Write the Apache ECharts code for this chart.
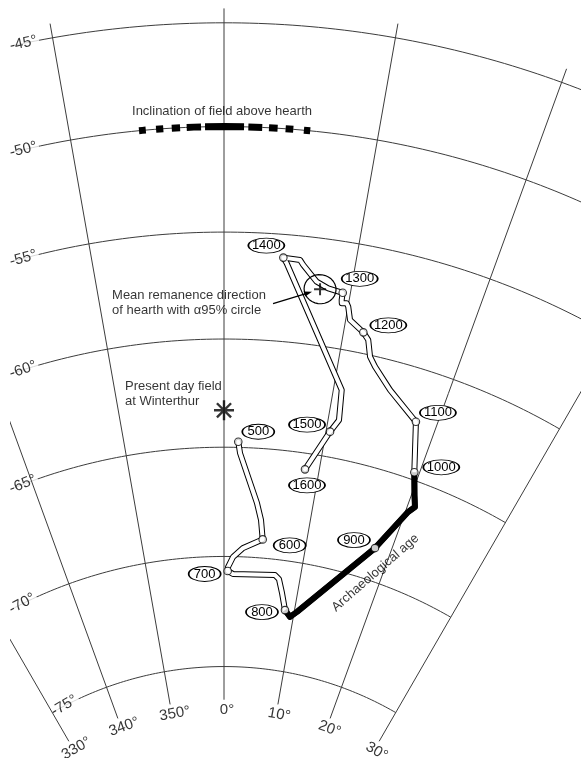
<!DOCTYPE html>
<html>
<head>
<meta charset="utf-8">
<script src="https://cdn.jsdelivr.net/npm/echarts@6/dist/echarts.min.js"></script>
<style>
  html, body { margin: 0; padding: 0; background: #ffffff; }
  #chart { width: 581px; height: 758px; }
</style>
</head>
<body>
<div id="chart"></div>
<script>
// ---- Net graticule (Lambert equal-area, lower hemisphere) ----
const inclinationTicks = [-45, -50, -55, -60, -65, -70, -75];
const declinationTicks = [330, 340, 350, 0, 10, 20, 30];

// ---- Secular variation curve: traced vertices (declination °, inclination °) ----
const curveDec = [1.44, 1.65, 3.72, 4.32, 4.70, 2.36, 1.14, 0.52, 0.48, 1.18, 6.69, 7.27, 7.92, 8.67,
                  9.53, 10.39, 18.10, 20.28, 20.79, 20.30, 19.49,
                  18.07, 17.59, 14.99, 13.21, 12.60, 12.15, 11.62, 10.35, 10.02, 9.85, 9.46, 9.41, 9.40,
                  8.22, 7.25, 6.08, 5.79, 4.51, 4.80, 10.75, 11.03, 10.39, 8.52];
const curveInc = [-64.74, -65.26, -67.51, -68.27, -69.15, -69.60, -70.02, -70.48, -70.66, -70.79, -70.71, -70.87, -71.48, -72.23,
                  -72.50, -72.22, -68.52, -66.46, -66.14, -65.63, -64.65,
                  -62.42, -62.27, -61.35, -60.47, -60.07, -59.33, -59.03, -58.58, -57.99, -57.84, -57.88, -57.73, -57.39,
                  -57.29, -57.05, -56.35, -56.13, -56.09, -56.34, -61.85, -63.24, -63.84, -65.74];
// age (AD) at the century vertices of the curve, null elsewhere
const curveAge = [500, null, null, null, 600, null, null, null, 700, null, null, null, null, 800,
                  null, null, 900, null, null, null, 1000,
                  1100, null, null, null, null, null, 1200, null, null, null, null, null, 1300,
                  null, null, null, null, 1400, null, null, null, 1500, 1600];
// section dated by archaeology
const archaeologicalFrom = 800, archaeologicalTo = 1000;

// ---- Hearth and reference directions ----
const hearthMeanDec = 7.59, hearthMeanInc = -57.38, hearthA95 = 0.68;
const presentDec = 0, presentInc = -63.3;
const hearthFieldInc = -50;
const hearthFieldDecRanges = [[-5.52, -5.08], [-4.41, -3.94], [-3.39, -2.85], [-2.42, -1.49], [-1.23, 1.30],
                              [1.58, 2.48], [2.92, 3.48], [4.00, 4.50], [5.19, 5.60]];

// ---- Layout ----
const NET_CX = 224, NET_CY = 1010, NET_R = 2553, NET_R0 = -0.004;
const CLIP_X = 10;
const DEC_LINE_TOP = -44.3, DEC_LINE_BOTTOM = -76.5, DEC_LABEL_INC = -76.95;
const FONT = '"Liberation Sans", Arial, Helvetica, sans-serif';
const TICK_FONT_SIZE = 15;
const ageTagOffsets = {500: [20, -10], 600: [27, 6], 700: [-23, 3], 800: [-23, 2], 900: [-21, -8], 1000: [27, -5],
                       1100: [22, -9], 1200: [25, -7], 1300: [17, -14], 1400: [-17, -12], 1500: [-23, -7], 1600: [2, 16]};

const rad = Math.PI / 180;
const eqArea = inc => Math.sin((90 + inc) / 2 * rad);
const wrap = dec => ((dec % 360) + 360) % 360;
const signedDec = dec => (dec > 180 ? dec - 360 : dec);
const P = (dec, inc) => [eqArea(inc), wrap(dec)];
const netRadius = inc => NET_R * (eqArea(inc) - NET_R0);

const series = [];

// inclination circles
inclinationTicks.forEach(inc => {
  const pts = [];
  for (let d = -30; d <= 30.0001; d += 0.5) pts.push(P(d, inc));
  series.push({
    type: 'line', coordinateSystem: 'polar', data: pts, symbol: 'none', silent: true, z: 1,
    lineStyle: { color: '#3c3c3c', width: 1 }
  });
});

// declination lines
declinationTicks.forEach(dec => {
  series.push({
    type: 'line', coordinateSystem: 'polar', data: [P(dec, DEC_LINE_TOP), P(dec, DEC_LINE_BOTTOM)],
    symbol: 'none', silent: true, z: 3, lineStyle: { color: '#3c3c3c', width: 1 }
  });
});

// inclination labels at the left end of each circle
const leftAnchor = inc => {
  const a = Math.asin(Math.min(1, (NET_CX - CLIP_X) / netRadius(inc))) / rad;
  return -Math.min(30, a);
};
series.push({
  type: 'scatter', coordinateSystem: 'polar', symbolSize: 0, silent: true, z: 2,
  data: inclinationTicks.map(inc => {
    const d = leftAnchor(inc);
    return {
      value: P(d, inc),
      label: { show: true, formatter: inc + '°', position: 'right', distance: 0, rotate: -d,
               align: 'left', verticalAlign: 'middle', fontSize: TICK_FONT_SIZE, fontFamily: FONT, color: '#000',
               backgroundColor: '#fff', padding: [1, 2, 1, 0] }
    };
  })
});

// declination labels at the bottom of each line
series.push({
  type: 'scatter', coordinateSystem: 'polar', symbolSize: 0, silent: true, z: 2,
  data: declinationTicks.map(dec => ({
    value: P(dec, DEC_LABEL_INC),
    label: { show: true, formatter: dec + '°', position: 'inside', rotate: -signedDec(dec),
             align: 'center', verticalAlign: 'middle', fontSize: TICK_FONT_SIZE, fontFamily: FONT, color: '#000',
             padding: [0, 0, 0, 6] }
  }))
});

// inclination of the field above the hearth
hearthFieldDecRanges.forEach(([d1, d2]) => {
  series.push({
    type: 'line', coordinateSystem: 'polar', data: [P(d1, hearthFieldInc), P((d1 + d2) / 2, hearthFieldInc), P(d2, hearthFieldInc)],
    symbol: 'none', silent: true, z: 4, lineStyle: { color: '#000', width: 7, cap: 'butt' }
  });
});
series.push({
  type: 'scatter', coordinateSystem: 'polar', symbolSize: 0, silent: true, z: 4,
  data: [{ value: P(0, hearthFieldInc),
           label: { show: true, formatter: 'Inclination of field above hearth', position: 'top', distance: 9,
                    offset: [-2, 0], fontSize: 13, fontFamily: FONT, color: '#000' } }]
});

// secular variation curve (double line)
const curvePts = curveDec.map((d, i) => P(d, curveInc[i]));
series.push({
  type: 'line', coordinateSystem: 'polar', data: curvePts, symbol: 'none', silent: true, z: 5,
  lineStyle: { color: '#000', width: 6, join: 'round', cap: 'round' }
});
series.push({
  type: 'line', coordinateSystem: 'polar', data: curvePts, symbol: 'none', silent: true, z: 6,
  lineStyle: { color: '#fff', width: 4, join: 'round', cap: 'round' }
});
// archaeologically dated section
const iFrom = curveAge.indexOf(archaeologicalFrom), iTo = curveAge.indexOf(archaeologicalTo);
series.push({
  type: 'line', coordinateSystem: 'polar', data: curvePts.slice(iFrom, iTo + 1), symbol: 'none', silent: true, z: 7,
  lineStyle: { color: '#000', width: 5.5, join: 'round', cap: 'butt' }
});
const i900 = curveAge.indexOf(900);
series.push({
  type: 'scatter', coordinateSystem: 'polar', symbolSize: 0, silent: true, z: 7,
  data: [{ value: curvePts[i900],
           label: { show: true, formatter: 'Archaeological age', position: 'inside', rotate: 41,
                    align: 'center', verticalAlign: 'middle', offset: [-16, 19],
                    fontSize: 13, fontFamily: FONT, color: '#000' } }]
});

// century points and age tags
const centuryIdx = curveAge.map((a, i) => (a === null ? -1 : i)).filter(i => i >= 0);
series.push({
  type: 'scatter', coordinateSystem: 'polar', silent: true, z: 8, symbol: 'circle', symbolSize: 7.5,
  itemStyle: { color: '#fff', borderColor: '#000', borderWidth: 1.1 },
  data: centuryIdx.map(i => curvePts[i])
});
series.push({
  type: 'scatter', coordinateSystem: 'polar', silent: true, z: 9, symbol: 'circle',
  itemStyle: { color: '#fff', borderColor: '#000', borderWidth: 1.2, opacity: 1 },
  data: centuryIdx.map(i => {
    const age = curveAge[i];
    return {
      value: curvePts[i],
      symbolSize: [age >= 1000 ? 36 : 32, 15],
      symbolOffset: ageTagOffsets[age],
      label: { show: true, formatter: String(age), position: 'inside', fontSize: 13, fontFamily: FONT, color: '#000' }
    };
  })
});

// mean remanence direction with alpha95 circle
const a95Pts = [];
for (let t = 0; t <= 360; t += 6) {
  const inc = hearthMeanInc + hearthA95 * Math.cos(t * rad);
  const dec = hearthMeanDec + hearthA95 * Math.sin(t * rad) / Math.cos(hearthMeanInc * rad);
  a95Pts.push(P(dec, inc));
}
series.push({
  type: 'line', coordinateSystem: 'polar', data: a95Pts, symbol: 'none', silent: true, z: 10,
  lineStyle: { color: '#000', width: 1.2 }
});
const meanSeriesIndex = series.length;
series.push({
  type: 'scatter', coordinateSystem: 'polar', silent: true, z: 10,
  symbol: 'path://M5 0L7 0L7 12L5 12ZM0 5L12 5L12 7L0 7Z', symbolSize: 12,
  itemStyle: { color: '#000' },
  data: [P(hearthMeanDec, hearthMeanInc)]
});
series.push({
  type: 'scatter', coordinateSystem: 'polar', symbolSize: 0, silent: true, z: 10,
  data: [{ value: P(hearthMeanDec, hearthMeanInc),
           label: { show: true, formatter: 'Mean remanence direction\nof hearth with α95% circle',
                    position: [-208, -1], align: 'left', verticalAlign: 'top', lineHeight: 15,
                    fontSize: 13, fontFamily: FONT, color: '#000' } }]
});

// present day field at Winterthur
series.push({
  type: 'scatter', coordinateSystem: 'polar', silent: true, z: 10,
  symbol: 'path://M8.8 0L11.2 0L11.2 20L8.8 20ZM0 8.8L20 8.8L20 11.2L0 11.2ZM3.78 2.08L17.92 16.22L16.22 17.92L2.08 3.78ZM17.92 3.78L3.78 17.92L2.08 16.22L16.22 2.08Z',
  symbolSize: 20, itemStyle: { color: '#000' },
  data: [{ value: P(presentDec, presentInc),
           label: { show: true, formatter: 'Present day field\nat Winterthur', position: [-89, -21],
                    align: 'left', verticalAlign: 'top', lineHeight: 15,
                    fontSize: 13, fontFamily: FONT, color: '#000' } }]
});

const chart = echarts.init(document.getElementById('chart'), null, { renderer: 'canvas' });
chart.setOption({
  animation: false,
  backgroundColor: '#fff',
  polar: { center: [NET_CX, NET_CY], radius: [0, NET_R] },
  angleAxis: { type: 'value', min: 0, max: 360, startAngle: 90, clockwise: true, show: false },
  radiusAxis: { type: 'value', min: NET_R0, max: NET_R0 + 1, show: false },
  series: series
});

// pointer from the caption to the mean direction, and the left margin of the net
let mp = null;
try { mp = chart.convertToPixel({ seriesIndex: meanSeriesIndex }, P(hearthMeanDec, hearthMeanInc)); } catch (e) { mp = null; }
if (!mp) {
  const r = netRadius(hearthMeanInc);
  mp = [NET_CX + r * Math.sin(hearthMeanDec * rad), NET_CY - r * Math.cos(hearthMeanDec * rad)];
}
const a0 = [mp[0] - 47, mp[1] + 14.5], a1 = [mp[0] - 8, mp[1] + 2.5];
const len = Math.hypot(a1[0] - a0[0], a1[1] - a0[1]);
const ux = (a1[0] - a0[0]) / len, uy = (a1[1] - a0[1]) / len;
const hl = 8, hw = 2.6;
chart.setOption({
  graphic: [
    { type: 'rect', z: 100, silent: true, shape: { x: 0, y: 0, width: CLIP_X, height: 758 }, style: { fill: '#fff' } },
    { type: 'line', z: 100, silent: true,
      shape: { x1: a0[0], y1: a0[1], x2: a1[0] - ux * hl * 0.8, y2: a1[1] - uy * hl * 0.8 },
      style: { stroke: '#000', lineWidth: 1.2 } },
    { type: 'polygon', z: 100, silent: true,
      shape: { points: [a1,
                        [a1[0] - ux * hl - uy * hw, a1[1] - uy * hl + ux * hw],
                        [a1[0] - ux * hl + uy * hw, a1[1] - uy * hl - ux * hw]] },
      style: { fill: '#000' } }
  ]
});
</script>
</body>
</html>
